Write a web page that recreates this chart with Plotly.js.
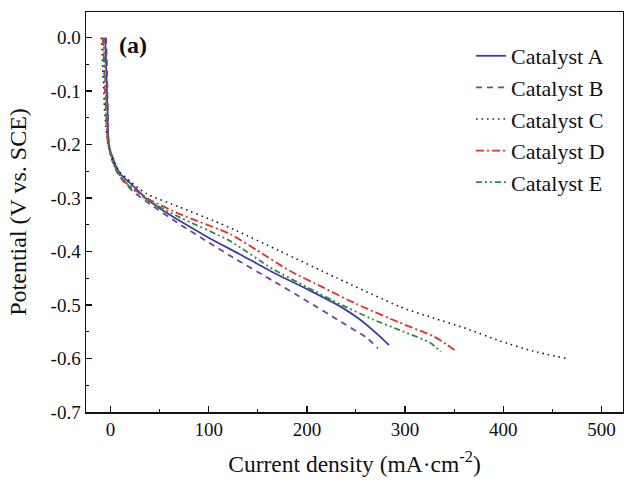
<!DOCTYPE html>
<html>
<head>
<meta charset="utf-8">
<script src="https://cdn.plot.ly/plotly-3.0.1.min.js"></script>
<style>html,body{margin:0;padding:0;background:#fff;}#chart{width:624px;height:484px;}</style>
</head>
<body>
<div id="chart"></div>
<script>
// Series names
const seriesNames = ["Catalyst A", "Catalyst B", "Catalyst C", "Catalyst D", "Catalyst E"];

// Current density (mA·cm-2) and potential (V vs. SCE)
const xA = [-5.8, -5, -4.5, -4, -3.5, -3, -2.6, -2, 0, 3, 6, 10, 15, 20, 28, 37, 50, 70, 100, 131.7, 165.6, 200, 233.5, 254, 274, 283.7];
const yA = [0, -0.02, -0.05, -0.08, -0.11, -0.14, -0.17, -0.195, -0.213, -0.228, -0.242, -0.255, -0.264, -0.272, -0.286, -0.302, -0.319, -0.342, -0.374, -0.405, -0.439, -0.470, -0.502, -0.527, -0.558, -0.575];

const xB = [-4.5, -4, -3.5, -3.2, -2.8, -2.4, -1.5, 0, 3, 8, 15, 25, 40, 70.6, 100, 124.8, 165.6, 199.6, 233.5, 260.7, 272.5];
const yB = [0, -0.03, -0.06, -0.10, -0.14, -0.18, -0.205, -0.218, -0.236, -0.256, -0.273, -0.291, -0.311, -0.349, -0.383, -0.411, -0.455, -0.492, -0.530, -0.561, -0.581];

const xC = [-9.5, -8.5, -8, -7, -6.5, -5.5, -4, -2.5, 0, 4, 10, 20, 36.7, 70.6, 104.5, 128.3, 172.4, 230.1, 294.6, 328.5, 362.5, 396.4, 430.3, 464.4];
const yC = [0, -0.03, -0.06, -0.09, -0.12, -0.15, -0.18, -0.2, -0.218, -0.236, -0.252, -0.269, -0.292, -0.317, -0.342, -0.361, -0.399, -0.449, -0.503, -0.524, -0.544, -0.567, -0.586, -0.600];

const xD = [-8, -7, -6.5, -6, -5, -4.5, -3.5, -2.5, 0, 3, 8, 15, 25, 40, 70.6, 121.5, 148.7, 182.6, 216.5, 250.5, 294.6, 328.5, 342, 351.6];
const yD = [0, -0.03, -0.06, -0.09, -0.12, -0.15, -0.18, -0.2, -0.217, -0.235, -0.254, -0.27, -0.285, -0.303, -0.330, -0.367, -0.397, -0.436, -0.467, -0.498, -0.533, -0.558, -0.573, -0.586];

const xE = [-7, -6.5, -6, -5, -4.5, -4, -3, -2.2, 0, 3, 8, 15, 25, 40, 70.6, 121.5, 165.6, 199.6, 233.5, 267.4, 294.6, 325.2, 332, 336.4];
const yE = [0, -0.03, -0.06, -0.09, -0.12, -0.15, -0.18, -0.2, -0.217, -0.235, -0.255, -0.271, -0.287, -0.306, -0.336, -0.380, -0.433, -0.466, -0.498, -0.527, -0.547, -0.570, -0.580, -0.587];

const xTickVals = [0, 100, 200, 300, 400, 500];
const yTickVals = [0, -0.1, -0.2, -0.3, -0.4, -0.5, -0.6, -0.7];
const yTickText = ["0.0", "-0.1", "-0.2", "-0.3", "-0.4", "-0.5", "-0.6", "-0.7"];

const xs = [xA, xB, xC, xD, xE];
const ys = [yA, yB, yC, yD, yE];
const colors = ["#3b3fa6", "#7b3f98", "#1a1a1a", "#e3312b", "#2e8b3a"];
const dashes = ["solid", "6px,5px", "1.5px,4px", "8px,3px,2px,3px", "6px,3px,2px,3px,2px,3px"];
const widths = [1.8, 1.8, 1.6, 1.8, 1.8];

const traces = seriesNames.map((n, i) => ({
  x: xs[i], y: ys[i], name: n, type: "scatter", mode: "lines",
  line: {color: colors[i], width: widths[i], dash: dashes[i], shape: "spline", smoothing: 0.6}
}));

const font = "Liberation Serif";
const layout = {
  width: 624, height: 484,
  margin: {l: 86, r: 1, t: 12, b: 72},
  paper_bgcolor: "#fff", plot_bgcolor: "#fff",
  font: {family: font, color: "#111", size: 18},
  showlegend: true,
  legend: {
    x: 0.717, y: 0.9425, xanchor: "left", yanchor: "top",
    bgcolor: "rgba(0,0,0,0)", borderwidth: 0,
    font: {family: font, size: 22, color: "#111"},
    traceorder: "normal"
  },
  xaxis: {
    range: [-25, 522], showgrid: false, zeroline: false,
    showline: true, linecolor: "#111", linewidth: 1.5, mirror: true,
    ticks: "inside", ticklen: 6, tickwidth: 1.3, tickcolor: "#111",
    tickvals: xTickVals,
    minor: {dtick: 50, tick0: 0, ticks: "inside", ticklen: 3, tickwidth: 1, tickcolor: "#111"},
    tickfont: {family: font, size: 19},
    title: {text: "Current density (mA·cm<sup>-2</sup>)", font: {family: font, size: 23.5}, standoff: 16}
  },
  yaxis: {
    range: [-0.7, 0.048], showgrid: false, zeroline: false,
    showline: true, linecolor: "#111", linewidth: 1.5, mirror: true,
    ticks: "inside", ticklen: 6, tickwidth: 1.3, tickcolor: "#111",
    tickvals: yTickVals, ticktext: yTickText,
    minor: {dtick: 0.05, tick0: 0, ticks: "inside", ticklen: 3, tickwidth: 1, tickcolor: "#111"},
    tickfont: {family: font, size: 19},
    title: {text: "Potential (V vs. SCE)", font: {family: font, size: 24}, standoff: 17}
  },
  annotations: [{
    text: "<b>(a)</b>", xref: "paper", yref: "paper", x: 0.057, y: 0.918,
    xanchor: "left", yanchor: "middle", showarrow: false,
    font: {family: font, size: 24, color: "#111"}
  }]
};

Plotly.newPlot("chart", traces, layout, {displayModeBar: false, staticPlot: true});
</script>
</body>
</html>
